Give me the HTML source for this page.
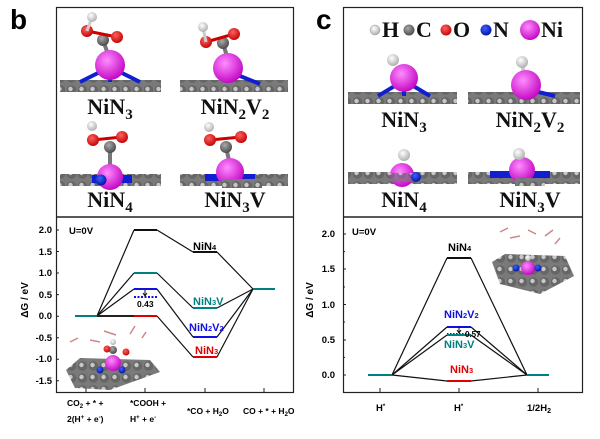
<!DOCTYPE html>
<html><head><meta charset="utf-8"><style>
html,body{margin:0;padding:0;background:#fff;}
svg{display:block;}
.t{font-family:"Liberation Sans",sans-serif;font-weight:bold;font-size:9.5px;}
.s{font-family:"Liberation Serif",serif;font-weight:bold;font-size:22px;fill:#111;}
</style></head><body>
<svg width="600" height="439" viewBox="0 0 600 439" xmlns="http://www.w3.org/2000/svg">
<defs>
<pattern id="g" x="0" y="0" width="11" height="12" patternUnits="userSpaceOnUse">
<rect width="11" height="12" fill="#7a7a7a"/>
<circle cx="5.5" cy="6" r="4.8" fill="#666"/>
<circle cx="4.5" cy="5" r="2.2" fill="#c8c8c8"/>
</pattern>
<radialGradient id="ni" cx="0.4" cy="0.35" r="0.7"><stop offset="0" stop-color="#ff8cff"/><stop offset="1" stop-color="#c000c0"/></radialGradient>
<radialGradient id="o" cx="0.4" cy="0.35" r="0.7"><stop offset="0" stop-color="#ff6060"/><stop offset="1" stop-color="#c00000"/></radialGradient>
<radialGradient id="c" cx="0.4" cy="0.35" r="0.7"><stop offset="0" stop-color="#aaa"/><stop offset="1" stop-color="#444"/></radialGradient>
<radialGradient id="h" cx="0.4" cy="0.35" r="0.7"><stop offset="0" stop-color="#fff"/><stop offset="1" stop-color="#aaa"/></radialGradient>
<radialGradient id="n" cx="0.4" cy="0.35" r="0.7"><stop offset="0" stop-color="#4060ff"/><stop offset="1" stop-color="#0010a0"/></radialGradient>
</defs>

<text x="10" y="29" font-family="Liberation Sans,sans-serif" font-weight="bold" font-size="28">b</text>
<text x="316" y="29" font-family="Liberation Sans,sans-serif" font-weight="bold" font-size="28">c</text>

<rect x="56.5" y="7.5" width="237" height="385" fill="none" stroke="#222" stroke-width="1.2"/>
<line x1="56" y1="217" x2="294" y2="217" stroke="#222" stroke-width="1.5"/>
<rect x="343.5" y="7.5" width="239" height="385" fill="none" stroke="#222" stroke-width="1.2"/>
<line x1="343" y1="217" x2="583" y2="217" stroke="#222" stroke-width="1.5"/>

<!-- panel b structures -->
<g>
<rect x="60" y="80" width="101" height="12" fill="url(#g)"/>
<path d="M100 72 L80 82 M120 72 L140 82 M110 72 L110 82" stroke="#1020d0" stroke-width="4"/>
<line x1="103" y1="40" x2="110" y2="60" stroke="#777" stroke-width="4"/>
<circle cx="110" cy="65" r="15" fill="url(#ni)"/>
<circle cx="103" cy="40" r="6" fill="url(#c)"/>
<line x1="87" y1="31" x2="117" y2="37" stroke="#c00" stroke-width="3"/>
<circle cx="87" cy="31" r="6" fill="url(#o)"/><circle cx="117" cy="37" r="6" fill="url(#o)"/>
<line x1="92" y1="17" x2="87" y2="31" stroke="#ccc" stroke-width="3"/>
<circle cx="92" cy="17" r="5" fill="url(#h)"/>
<text class="s" x="110" y="114" text-anchor="middle">NiN<tspan font-size="15" dy="5">3</tspan></text>

<rect x="180" y="80" width="108" height="12" fill="url(#g)"/>
<path d="M235 74 L260 84" stroke="#1020d0" stroke-width="4"/>
<line x1="223" y1="43" x2="228" y2="60" stroke="#777" stroke-width="4"/>
<circle cx="228" cy="68" r="15" fill="url(#ni)"/>
<circle cx="223" cy="43" r="6" fill="url(#c)"/>
<line x1="206" y1="42" x2="234" y2="34" stroke="#c00" stroke-width="3"/>
<circle cx="206" cy="42" r="6" fill="url(#o)"/><circle cx="234" cy="34" r="6" fill="url(#o)"/>
<line x1="203" y1="27" x2="206" y2="42" stroke="#ccc" stroke-width="3"/>
<circle cx="203" cy="27" r="5" fill="url(#h)"/>
<text class="s" x="235" y="114" text-anchor="middle">NiN<tspan font-size="15" dy="5">2</tspan><tspan dy="-5">V</tspan><tspan font-size="15" dy="5">2</tspan></text>

<rect x="60" y="174" width="101" height="12" fill="url(#g)"/>
<rect x="92" y="175" width="40" height="8" fill="#1020d0"/>
<line x1="110" y1="147" x2="110" y2="168" stroke="#777" stroke-width="4"/>
<circle cx="110" cy="177" r="13" fill="url(#ni)"/>
<circle cx="101" cy="180" r="5.5" fill="url(#n)"/>
<circle cx="110" cy="147" r="6" fill="url(#c)"/>
<line x1="93" y1="140" x2="122" y2="137" stroke="#c00" stroke-width="3"/>
<circle cx="93" cy="140" r="6" fill="url(#o)"/><circle cx="122" cy="137" r="6" fill="url(#o)"/>
<circle cx="92" cy="126" r="5" fill="url(#h)"/>
<text class="s" x="110" y="207" text-anchor="middle">NiN<tspan font-size="15" dy="5">4</tspan></text>

<rect x="180" y="174" width="108" height="12" fill="url(#g)"/>
<rect x="205" y="174" width="50" height="7" fill="#1020d0"/>
<line x1="226" y1="147" x2="230" y2="165" stroke="#777" stroke-width="4"/>
<circle cx="230" cy="172" r="14" fill="url(#ni)"/>
<rect x="222" y="179" width="40" height="9" fill="url(#g)"/>
<circle cx="226" cy="147" r="6" fill="url(#c)"/>
<line x1="210" y1="140" x2="241" y2="137" stroke="#c00" stroke-width="3"/>
<circle cx="210" cy="140" r="6" fill="url(#o)"/><circle cx="241" cy="137" r="6" fill="url(#o)"/>
<circle cx="209" cy="127" r="5" fill="url(#h)"/>
<text class="s" x="235" y="207" text-anchor="middle">NiN<tspan font-size="15" dy="5">3</tspan><tspan dy="-5">V</tspan></text>
</g>

<!-- panel c structures -->
<g>
<circle cx="375" cy="30" r="5" fill="url(#h)" stroke="#999" stroke-width="0.5"/>
<text class="s" x="382" y="37" font-size="18">H</text>
<circle cx="409" cy="30" r="5.5" fill="url(#c)"/>
<text class="s" x="416" y="37" font-size="18">C</text>
<circle cx="446" cy="30" r="5.5" fill="url(#o)"/>
<text class="s" x="453" y="37" font-size="18">O</text>
<circle cx="486" cy="30" r="5.5" fill="url(#n)"/>
<text class="s" x="493" y="37" font-size="18">N</text>
<circle cx="530" cy="30" r="10" fill="url(#ni)"/>
<text class="s" x="541" y="37" font-size="18">Ni</text>

<rect x="348" y="92" width="109" height="12" fill="url(#g)"/>
<path d="M398 84 L378 96 M410 84 L430 96 M404 84 L404 96" stroke="#1020d0" stroke-width="4"/>
<circle cx="404" cy="78" r="14" fill="url(#ni)"/>
<circle cx="393" cy="60" r="6" fill="url(#h)"/>
<text class="s" x="404" y="127" text-anchor="middle">NiN<tspan font-size="15" dy="5">3</tspan></text>

<rect x="468" y="92" width="112" height="12" fill="url(#g)"/>
<path d="M530 90 L555 96" stroke="#1020d0" stroke-width="4"/>
<line x1="522" y1="62" x2="524" y2="75" stroke="#ccc" stroke-width="4"/>
<circle cx="526" cy="85" r="15" fill="url(#ni)"/>
<circle cx="522" cy="62" r="6" fill="url(#h)"/>
<text class="s" x="530" y="127" text-anchor="middle">NiN<tspan font-size="15" dy="5">2</tspan><tspan dy="-5">V</tspan><tspan font-size="15" dy="5">2</tspan></text>

<rect x="348" y="172" width="109" height="12" fill="url(#g)"/>
<circle cx="402" cy="175" r="12" fill="url(#ni)"/>
<rect x="385" y="173" width="35" height="9" fill="url(#g)" opacity="0.7"/>
<circle cx="416" cy="177" r="5" fill="url(#n)"/>
<circle cx="404" cy="155" r="6" fill="url(#h)"/>
<text class="s" x="404" y="207" text-anchor="middle">NiN<tspan font-size="15" dy="5">4</tspan></text>

<rect x="468" y="172" width="112" height="12" fill="url(#g)"/>
<rect x="490" y="171" width="60" height="7" fill="#1020d0"/>
<circle cx="522" cy="170" r="13" fill="url(#ni)"/>
<rect x="515" y="178" width="30" height="8" fill="url(#g)"/>
<circle cx="519" cy="154" r="6" fill="url(#h)"/>
<text class="s" x="530" y="207" text-anchor="middle">NiN<tspan font-size="15" dy="5">3</tspan><tspan dy="-5">V</tspan></text>
</g>

<!-- LEFT CHART -->
<g class="t">
<text x="52" y="233" text-anchor="end">2.0</text>
<text x="52" y="255" text-anchor="end">1.5</text>
<text x="52" y="276" text-anchor="end">1.0</text>
<text x="52" y="298" text-anchor="end">0.5</text>
<text x="52" y="319" text-anchor="end">0.0</text>
<text x="52" y="341" text-anchor="end">-0.5</text>
<text x="52" y="362" text-anchor="end">-1.0</text>
<text x="52" y="384" text-anchor="end">-1.5</text>
<text x="69" y="234">U=0V</text>
<text transform="translate(28,300) rotate(-90)" text-anchor="middle" font-size="10">ΔG / eV</text>
<text x="67" y="406" font-size="8.5">CO<tspan font-size="6" dy="2">2</tspan><tspan dy="-2"> + * +</tspan></text>
<text x="67" y="422" font-size="8.5">2(H<tspan font-size="6" dy="-3">+</tspan><tspan dy="3"> + e</tspan><tspan font-size="6" dy="-3">-</tspan><tspan dy="3">)</tspan></text>
<text x="130" y="406" font-size="8.5">*COOH +</text>
<text x="130" y="422" font-size="8.5">H<tspan font-size="6" dy="-3">+</tspan><tspan dy="3"> + e</tspan><tspan font-size="6" dy="-3">-</tspan></text>
<text x="187" y="414" font-size="8.5">*CO + H<tspan font-size="6" dy="2">2</tspan><tspan dy="-2">O</tspan></text>
<text x="243" y="414" font-size="8.5">CO + * + H<tspan font-size="6" dy="2">2</tspan><tspan dy="-2">O</tspan></text>
</g>
<g stroke="#222" stroke-width="1">
<path d="M56 230h3M56 251.5h3M56 273h3M56 294.6h3M56 316.2h3M56 337.7h3M56 359.3h3M56 380.8h3"/>
<path d="M86 392v-4M145 392v-4M205 392v-4M264 392v-4"/>
</g>
<g fill="none" stroke="#111" stroke-width="1.2">
<path d="M97 316 L134 230 M157 230 L193 252 M217 252 L253 289"/>
<path d="M97 316 L134 273 M157 273 L193 308 M217 308 L253 289"/>
<path d="M97 316 L134 289 M157 289 L193 337 M217 337 L253 289"/>
<path d="M157 316 L193 357 M217 357 L253 289"/>
</g>
<g stroke-width="2">
<line x1="75" y1="316" x2="97" y2="316" stroke="#008080"/>
<line x1="97" y1="316" x2="134" y2="316" stroke="#222"/>
<line x1="134" y1="230" x2="157" y2="230" stroke="#111"/>
<line x1="134" y1="273" x2="157" y2="273" stroke="#008080"/>
<line x1="134" y1="289" x2="157" y2="289" stroke="#1010e0"/>
<line x1="134" y1="316" x2="157" y2="316" stroke="#e00000"/>
<line x1="134" y1="297" x2="157" y2="297" stroke="#1010e0" stroke-dasharray="2,1.5"/>
<line x1="193" y1="252" x2="217" y2="252" stroke="#111"/>
<line x1="193" y1="308" x2="217" y2="308" stroke="#008080"/>
<line x1="193" y1="337" x2="217" y2="337" stroke="#1010e0"/>
<line x1="193" y1="357" x2="217" y2="357" stroke="#e00000"/>
<line x1="253" y1="289" x2="275" y2="289" stroke="#008080"/>
</g>
<path d="M145 290 V296 M143 293 L145 296 L147 293" stroke="#111" fill="none" stroke-width="1"/>
<g class="t">
<text x="137" y="307" font-size="8.5">0.43</text>
<text x="193" y="250" font-size="11">NiN<tspan font-size="7.5">4</tspan></text>
<text x="193" y="305" font-size="11" fill="#008080">NiN<tspan font-size="7.5">3</tspan>V</text>
<text x="189" y="331" font-size="11" fill="#1010e0">NiN<tspan font-size="7.5">2</tspan>V<tspan font-size="7.5">2</tspan></text>
<text x="195" y="354" font-size="11" fill="#e00000">NiN<tspan font-size="7.5">3</tspan></text>
</g>
<g>
<path d="M66 370 L80 358 L150 360 L160 372 L110 390 L75 388 Z" fill="url(#g)"/>
<circle cx="113" cy="363" r="8" fill="url(#ni)"/>
<circle cx="100" cy="370" r="3.5" fill="url(#n)"/><circle cx="122" cy="370" r="3.5" fill="url(#n)"/>
<circle cx="113" cy="350" r="4" fill="url(#c)"/>
<circle cx="107" cy="349" r="3.5" fill="url(#o)"/><circle cx="126" cy="352" r="3.5" fill="url(#o)"/>
<circle cx="113" cy="342" r="3" fill="url(#h)"/>
<path d="M70 342l8 -4 M90 340l10 2 M104 331l12 4 M130 334l5 -8 M142 338l4 -6" stroke="#c88" stroke-width="1.5"/>
</g>

<!-- RIGHT CHART -->
<g class="t">
<text x="335" y="237" text-anchor="end">2.0</text>
<text x="335" y="272" text-anchor="end">1.5</text>
<text x="335" y="308" text-anchor="end">1.0</text>
<text x="335" y="343" text-anchor="end">0.5</text>
<text x="335" y="378" text-anchor="end">0.0</text>
<text x="352" y="235">U=0V</text>
<text transform="translate(313,300) rotate(-90)" text-anchor="middle" font-size="10">ΔG / eV</text>
<text x="376" y="411">H<tspan font-size="6" dy="-3">*</tspan></text>
<text x="454" y="411">H<tspan font-size="6" dy="-3">*</tspan></text>
<text x="527" y="411">1/2H<tspan font-size="7" dy="2">2</tspan></text>
</g>
<g stroke="#222" stroke-width="1">
<path d="M343 234h3M343 251.6h2M343 269h3M343 287h2M343 304.5h3M343 322h2M343 340h3M343 357.4h2M343 375h3"/>
<path d="M380 392v-4M459 392v-4M538 392v-4"/>
</g>
<g fill="none" stroke="#111" stroke-width="1.2">
<path d="M392 375 L447 258 M471 258 L527 375"/>
<path d="M392 375 L447 327 M471 327 L527 375"/>
<path d="M392 375 L447 335 M471 335 L527 375"/>
<path d="M392 375 L447 381 M471 381 L527 375"/>
</g>
<g stroke-width="2">
<line x1="368" y1="375" x2="392" y2="375" stroke="#008080"/>
<line x1="527" y1="375" x2="549" y2="375" stroke="#008080"/>
<line x1="447" y1="258" x2="471" y2="258" stroke="#111"/>
<line x1="447" y1="327" x2="471" y2="327" stroke="#1010e0"/>
<line x1="447" y1="334" x2="471" y2="334" stroke="#1010e0" stroke-dasharray="1.5,1.5"/>
<line x1="447" y1="335" x2="471" y2="335" stroke="#008080"/>
<line x1="447" y1="381" x2="471" y2="381" stroke="#e00000"/>
</g>
<path d="M459 327 V333 M457 330 L459 333 L461 330" stroke="#111" fill="none" stroke-width="1"/>
<g class="t">
<text x="448" y="251" font-size="11">NiN<tspan font-size="7.5">4</tspan></text>
<text x="444" y="318" font-size="11" fill="#1010e0">NiN<tspan font-size="7.5">2</tspan>V<tspan font-size="7.5">2</tspan></text>
<text x="465" y="337" font-size="8">0.57</text>
<text x="444" y="348" font-size="11" fill="#008080">NiN<tspan font-size="7.5">3</tspan>V</text>
<text x="450" y="373" font-size="11" fill="#e00000">NiN<tspan font-size="7.5">3</tspan></text>
</g>
<g>
<path d="M492 262 L505 254 L565 256 L574 276 L540 294 L500 284 Z" fill="url(#g)"/>
<circle cx="528" cy="268" r="7" fill="url(#ni)"/>
<circle cx="516" cy="268" r="3.5" fill="url(#n)"/><circle cx="538" cy="268" r="3.5" fill="url(#n)"/>
<circle cx="528" cy="258" r="3" fill="url(#h)"/>
<path d="M500 232l8 -4 M510 238l10 -2 M528 230l8 4 M545 236l8 -6 M555 244l5 -6" stroke="#c88" stroke-width="1.5"/>
</g>
</svg>
</body></html>
